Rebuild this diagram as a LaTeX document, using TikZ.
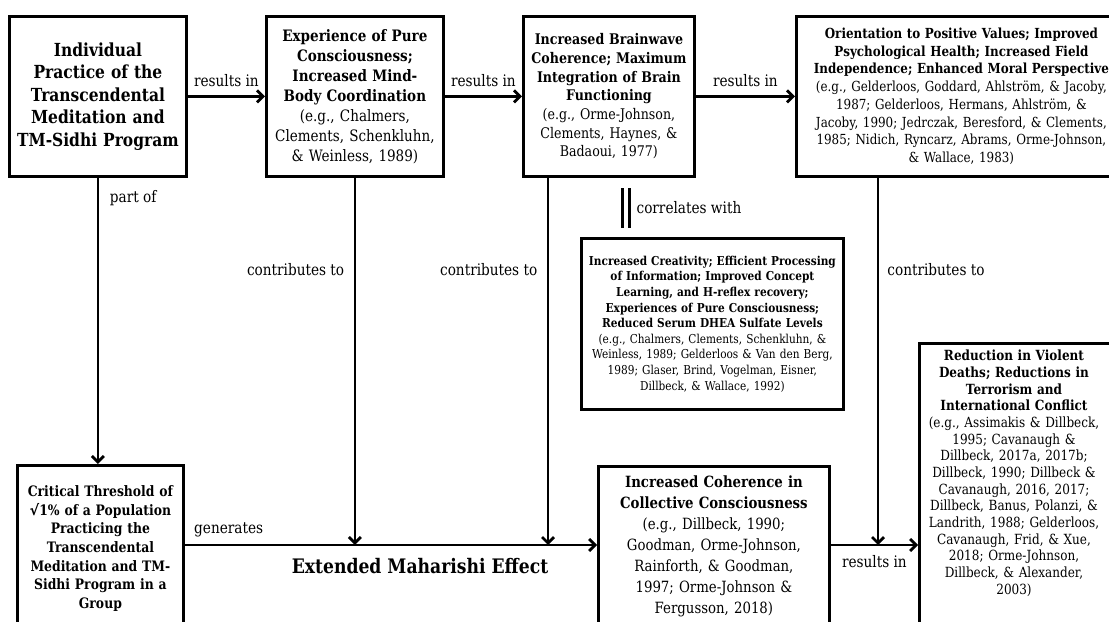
\documentclass[tikz,border=0pt]{standalone}
\usepackage{fontspec}
\setmainfont{DejaVu Serif}[FakeStretch=0.86]
\newfontfamily\symfont{DejaVu Sans}
\usetikzlibrary{arrows.meta}
\begin{document}
\begin{tikzpicture}[x=0.75pt,y=-0.75pt,
  box/.style={draw, line width=2.1pt, inner sep=0pt, align=center, anchor=north west},
  arr/.style={line width=2.1pt, -{Straight Barb[length=4.5pt,width=9pt]}},
  lbl/.style={font=\fontsize{11.9}{13}\selectfont, inner sep=1pt},
  bar/.style={double, line width=1.9pt, double distance=3pt}]
\clip (0,0) rectangle (1109,621);
\fill[white] (0,0) rectangle (1109,621);
% top row
\node[box, minimum width={177*0.75pt}, minimum height={160*0.75pt}, text width={172*0.75pt},
  font=\bfseries\fontsize{13.5}{16.8}\selectfont] (A) at (8,15)
  {Individual\\Practice of the\\Transcendental\\Meditation and\\TM-Sidhi Program};
\node[box, minimum width={177*0.75pt}, minimum height={160*0.75pt}, text width={172*0.75pt},
  font=\fontsize{11.8}{15}\selectfont] (B) at (265,15)
  {\bfseries Experience of Pure\\Consciousness;\\Increased Mind-\\Body Coordination\\
   \mdseries (e.g., Chalmers,\\Clements, Schenkluhn,\\\& Weinless, 1989)};
\node[box, minimum width={171*0.75pt}, minimum height={160*0.75pt}, text width={166*0.75pt},
  font=\fontsize{11}{14}\selectfont] (C) at (522,15)
  {\bfseries Increased Brainwave\\Coherence; Maximum\\Integration of Brain\\Functioning\\
   \mdseries (e.g., Orme-Johnson,\\Clements, Haynes, \&\\Badaoui, 1977)};
\node[box, minimum width={330*0.75pt}, minimum height={160*0.75pt}, text width={326*0.75pt},
  font=\fontsize{10.4}{13.3}\selectfont] (D) at (795,15)
  {\bfseries Orientation to Positive Values; Improved\\Psychological Health; Increased Field\\Independence; Enhanced Moral Perspective\\
   \mdseries (e.g., Gelderloos, Goddard, Ahlström, \& Jacoby,\\1987; Gelderloos, Hermans, Ahlström, \&\\Jacoby, 1990; Jedrczak, Beresford, \& Clements,\\1985; Nidich, Ryncarz, Abrams, Orme-Johnson,\\\& Wallace, 1983)};
% middle
\node[box, minimum width={262*0.75pt}, minimum height={171*0.75pt}, text width={258*0.75pt},
  font=\fontsize{9.2}{11.7}\selectfont] (H) at (580,237)
  {\bfseries Increased Creativity; Efficient Processing\\of Information; Improved Concept\\Learning, and H-reflex recovery;\\Experiences of Pure Consciousness;\\Reduced Serum DHEA Sulfate Levels\\
   \mdseries (e.g., Chalmers, Clements, Schenkluhn, \&\\Weinless, 1989; Gelderloos \& Van den Berg,\\1989; Glaser, Brind, Vogelman, Eisner,\\Dillbeck, \& Wallace, 1992)};
% bottom row
\node[box, minimum width={166*0.75pt}, minimum height={166*0.75pt}, text width={162*0.75pt},
  font=\bfseries\fontsize{10.8}{14}\selectfont] (E) at (16,464)
  {Critical Threshold of\\{\symfont √}1\% of a Population\\Practicing the\\Transcendental\\Meditation and TM-\\Sidhi Program in a\\Group};
\node[box, minimum width={231*0.75pt}, minimum height={160*0.75pt}, text width={226*0.75pt},
  font=\fontsize{11.6}{15.8}\selectfont] (F) at (597,465)
  {\bfseries Increased Coherence in\\Collective Consciousness\\
   \mdseries (e.g., Dillbeck, 1990;\\Goodman, Orme-Johnson,\\Rainforth, \& Goodman,\\1997; Orme-Johnson \&\\Fergusson, 2018)};
\node[box, minimum width={200*0.75pt}, minimum height={300*0.75pt}] (G) at (918,342) {};
\node[anchor=north, inner sep=0pt, align=center, text width={196*0.75pt},
  font=\fontsize{10.5}{12.5}\selectfont] (Gt) at (1014,350)
  {\bfseries Reduction in Violent\\Deaths; Reductions in\\Terrorism and\\International Conflict\\
   \mdseries (e.g., Assimakis \& Dillbeck,\\1995; Cavanaugh \&\\Dillbeck, 2017a, 2017b;\\Dillbeck, 1990; Dillbeck \&\\Cavanaugh, 2016, 2017;\\Dillbeck, Banus, Polanzi, \&\\Landrith, 1988; Gelderloos,\\Cavanaugh, Frid, \& Xue,\\2018; Orme-Johnson,\\Dillbeck, \& Alexander,\\2003)};
\node[font=\bfseries\fontsize{15}{18}\selectfont, inner sep=0pt] (X) at (420,566) {Extended Maharishi Effect};
% helper coordinates
\coordinate (line) at (0,545);
\coordinate (Cs) at ([xshift={26*0.75pt}]C.south west);
\coordinate (Ds) at ([xshift={83*0.75pt}]D.south west);
\coordinate (c1) at (626,188);
\coordinate (c2) at (626,228);
% connectors
\draw[arr] (A.east) -- (B.west) node[midway, above=5pt, lbl] {results in};
\draw[arr] (B.east) -- (C.west) node[midway, above=5pt, lbl] {results in};
\draw[arr] (C.east) -- (D.west) node[midway, above=5pt, lbl] {results in};
\draw[arr] (A.south) -- (A.south |- E.north) node[pos=0.07, right=7pt, lbl] {part of};
\draw[arr] (B.south) -- (B.south |- line) node[pos=0.25, left=6pt, lbl] {contributes to};
\draw[arr] (Cs) -- (Cs |- line) node[pos=0.25, left=6pt, lbl] {contributes to};
\draw[arr] (Ds) -- (Ds |- line) node[pos=0.25, right=5pt, lbl] {contributes to};
\draw[arr] (E.east |- line) -- (F.west |- line) node[pos=0, anchor=south west, xshift=5pt, yshift=4pt, lbl] {generates};
\draw[arr] (F.east |- line) -- (G.west |- line) node[midway, below=6pt, lbl] {results in};
\draw[bar] (c1) -- (c2) node[midway, right=6pt, lbl] {correlates with};
\end{tikzpicture}
\end{document}
